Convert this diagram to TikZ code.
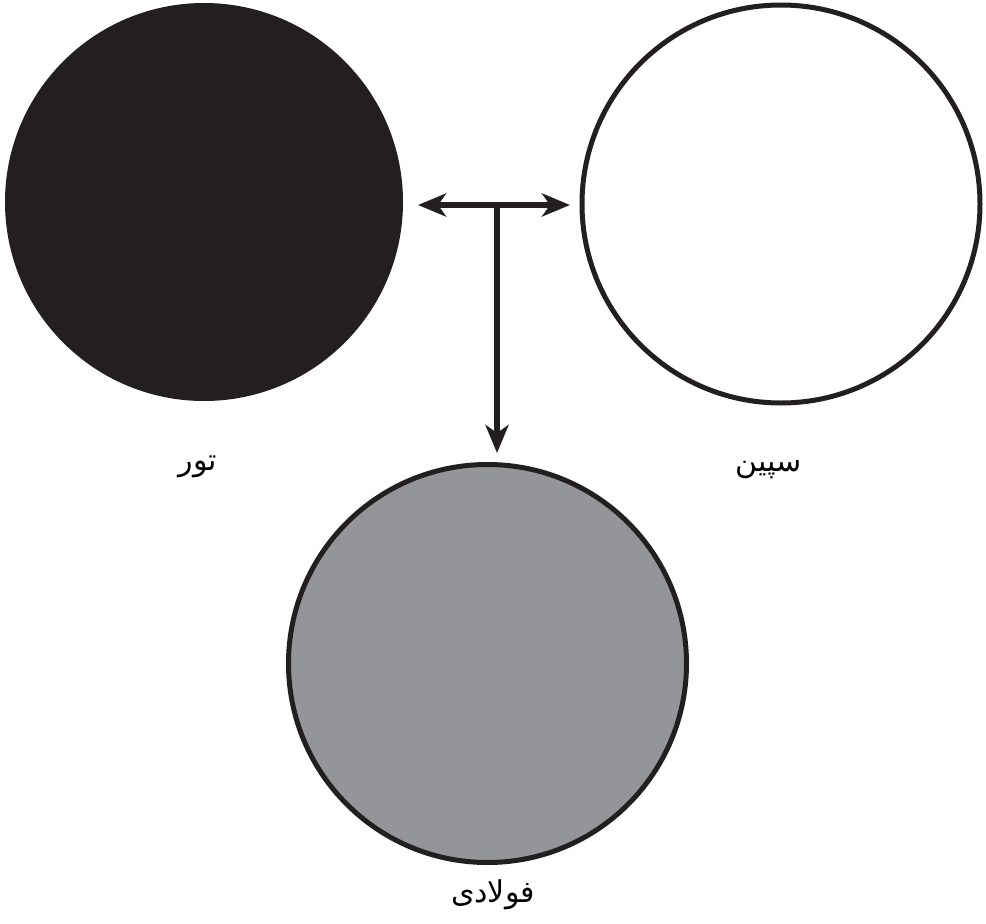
\documentclass[tikz,border=0pt]{standalone}
\usepackage{fontspec}
\usetikzlibrary{arrows.meta}
\TeXXeTstate=1
\newfontfamily\arabicfont[Script=Arabic]{DejaVu Sans}
\definecolor{ink}{HTML}{231F20}
\definecolor{steelgray}{HTML}{939598}
\begin{document}
\begin{tikzpicture}[x=1pt,y=-1pt,
  disc/.style={circle,inner sep=0pt,minimum size=398pt},
  ring/.style={disc,draw=ink,line width=5pt},
  lbl/.style={inner sep=0pt,font=\fontsize{30}{34}\selectfont\arabicfont},
  tip/.tip={Stealth[length=28pt,width=23pt,inset=8pt]},
  conn/.style={draw=ink,line width=5.5pt,-tip}
]
\useasboundingbox (0,0) rectangle (986,924);
\node[disc,fill=ink] (tor) at (204,202) {};
\node[ring,fill=white] (spin) at (781,204) {};
\node[ring,fill=steelgray] (fol) at (487.5,663.5) {};
\node[lbl] (torl) at (198,467) {\beginR تور\endR};
\node[lbl] (spinl) at (769,470) {\beginR سپین\endR};
\node[lbl] (foll) at (493,895) {\beginR فولادی\endR};
\coordinate (lt) at (418,205);
\coordinate (rt) at (570,205);
\coordinate (j) at (497,205);
\coordinate (dt) at (497,453);
\draw[conn,tip-tip] (lt) -- (rt);
\draw[conn] (j) -- (dt);
\end{tikzpicture}
\end{document}
